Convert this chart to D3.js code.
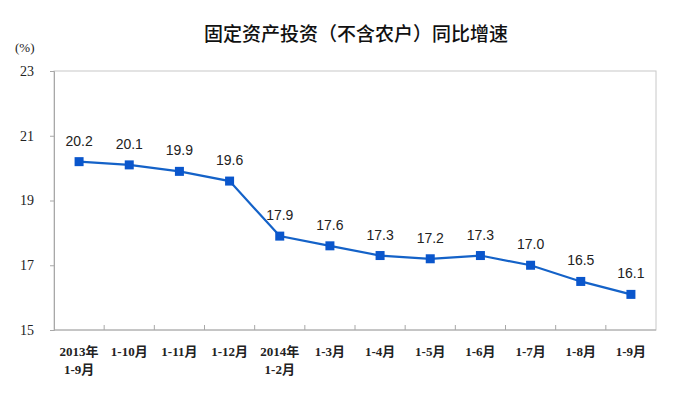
<!DOCTYPE html>
<html>
<head>
<meta charset="utf-8">
<script src="https://cdn.jsdelivr.net/npm/d3@7"></script>
<style>
  body { margin: 0; background: #fff; }
  svg { display: block; }
</style>
</head>
<body>
<svg id="chart" width="680" height="396"></svg>
<script>
const categories = ["2013年\n1-9月", "1-10月", "1-11月", "1-12月", "2014年\n1-2月", "1-3月",
  "1-4月", "1-5月", "1-6月", "1-7月", "1-8月", "1-9月"]
const growth = [20.2, 20.1, 19.9, 19.6, 17.9, 17.6, 17.3, 17.2, 17.3, 17.0, 16.5, 16.1]
const yTicks = [15, 17, 19, 21, 23]

const margin = {top: 71, right: 24, bottom: 66, left: 54}
const width = 680 - margin.left - margin.right
const height = 396 - margin.top - margin.bottom

const svg = d3.select("#chart")

svg.append("text")
  .attr("x", 356)
  .attr("y", 41)
  .attr("text-anchor", "middle")
  .style("font-family", "'Noto Sans CJK SC', sans-serif")
  .style("font-size", "19px")
  .style("font-weight", "500")
  .style("fill", "#111")
  .text("固定资产投资（不含农户）同比增速")

svg.append("text")
  .attr("x", 15)
  .attr("y", 52)
  .style("font-family", "'Liberation Serif', serif")
  .style("font-size", "13px")
  .style("fill", "#222")
  .text("(%)")

const g = svg.append("g").attr("transform", `translate(${margin.left},${margin.top})`)

const x = d3.scaleBand().domain(categories).range([0, width])
const y = d3.scaleLinear().domain([15, 23]).range([height, 0])

// plot frame
g.append("rect")
  .attr("width", width)
  .attr("height", height)
  .attr("fill", "none")
  .attr("stroke", "#c8c8c8")

// y axis
const yAxis = g.append("g")
  .call(d3.axisLeft(y).tickValues(yTicks).tickSize(4).tickPadding(16))
yAxis.select(".domain").attr("stroke", "#a8a8a8")
yAxis.selectAll(".tick line").attr("stroke", "#a8a8a8")
yAxis.selectAll(".tick text")
  .style("font-family", "'Liberation Serif', serif")
  .style("font-size", "14px")
  .style("fill", "#222")

// x axis: ticks at category boundaries pointing inward
const xAxis = g.append("g").attr("transform", `translate(0,${height})`)
xAxis.append("line")
  .attr("x1", 0).attr("x2", width)
  .attr("stroke", "#a8a8a8")
xAxis.selectAll(".bound")
  .data(categories.slice(1))
  .join("line")
  .attr("class", "bound")
  .attr("x1", d => x(d)).attr("x2", d => x(d))
  .attr("y1", 0).attr("y2", -5)
  .attr("stroke", "#a8a8a8")

const lbl = xAxis.selectAll(".lbl")
  .data(categories)
  .join("text")
  .attr("class", "lbl")
  .attr("text-anchor", "middle")
  .style("font-family", "'Liberation Serif', 'Noto Sans CJK SC', serif")
  .style("font-size", "13px")
  .style("font-weight", "bold")
  .style("fill", "#222")
lbl.selectAll("tspan")
  .data(d => d.split("\n").map(t => ({t, c: d})))
  .join("tspan")
  .attr("x", d => x(d.c) + x.bandwidth() / 2)
  .attr("y", (d, i) => 26 + i * 18)
  .text(d => d.t)

// line
const line = d3.line()
  .x((d, i) => x(categories[i]) + x.bandwidth() / 2)
  .y(d => y(d))

g.append("path")
  .datum(growth)
  .attr("d", line)
  .attr("fill", "none")
  .attr("stroke", "#1462c8")
  .attr("stroke-width", 2.2)

g.selectAll(".pt")
  .data(growth)
  .join("rect")
  .attr("class", "pt")
  .attr("x", (d, i) => x(categories[i]) + x.bandwidth() / 2 - 4.5)
  .attr("y", d => y(d) - 4.5)
  .attr("width", 9)
  .attr("height", 9)
  .attr("fill", "#0a56cc")

g.selectAll(".val")
  .data(growth)
  .join("text")
  .attr("class", "val")
  .attr("x", (d, i) => x(categories[i]) + x.bandwidth() / 2)
  .attr("y", d => y(d) - 16)
  .attr("text-anchor", "middle")
  .style("font-family", "'Liberation Sans', Arial, sans-serif")
  .style("font-size", "14px")
  .style("fill", "#222")
  .text(d => d.toFixed(1))
</script>
</body>
</html>
